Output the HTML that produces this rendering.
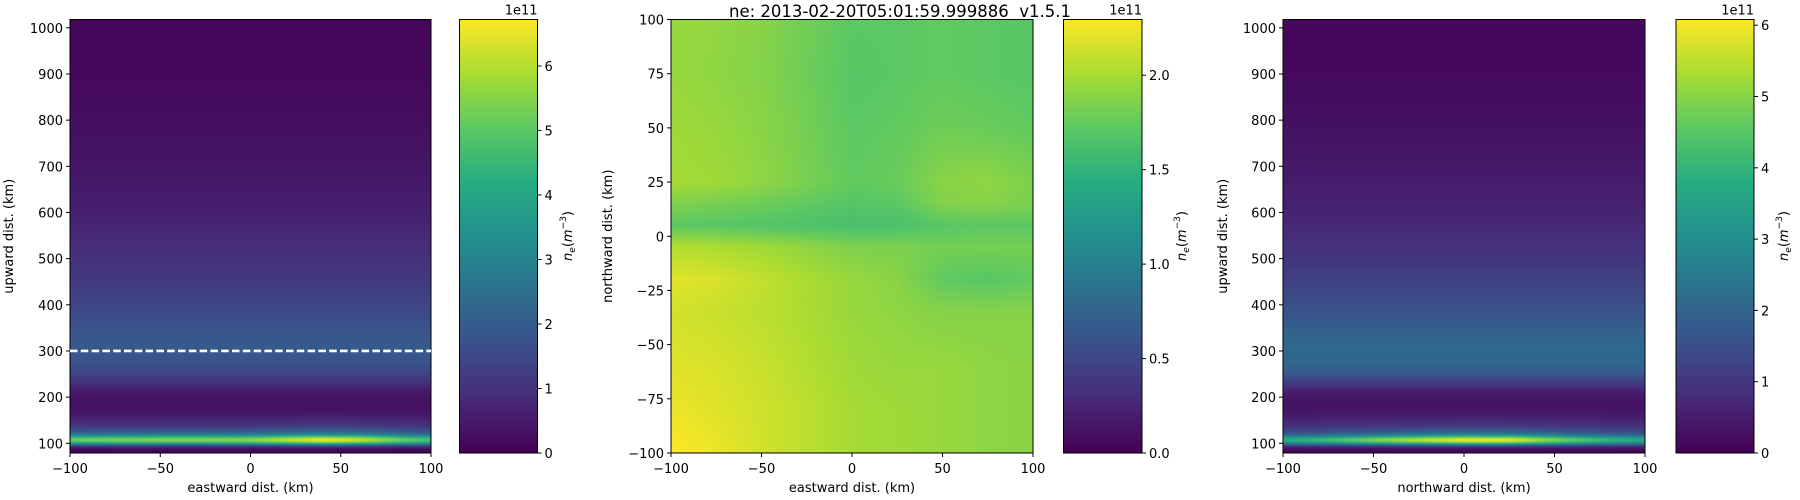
<!DOCTYPE html>
<html><head><meta charset="utf-8"><style>
body{margin:0;background:#fff;width:1800px;height:500px;overflow:hidden;position:relative;font-family:"DejaVu Sans","Liberation Sans",sans-serif}
canvas{position:absolute}
svg{position:absolute;left:0;top:0;font-family:"DejaVu Sans","Liberation Sans",sans-serif}
</style></head><body>
<canvas id="c1" style="left:70px;top:19px" width="361" height="434"></canvas>
<canvas id="c2" style="left:671px;top:19px" width="362" height="434"></canvas>
<canvas id="c3" style="left:1283px;top:19px" width="362" height="434"></canvas>
<canvas id="b1" style="left:459px;top:19px" width="78" height="434"></canvas>
<canvas id="b2" style="left:1063px;top:19px" width="79" height="434"></canvas>
<canvas id="b3" style="left:1676px;top:19px" width="78" height="434"></canvas>
<svg id="ov" width="1800" height="500"></svg>
<script>
// ---- data (values in 1e11 m^-3) ----
const altKm = [79,90,110,130,150,170,190,210,230,250,270,300,330,370,400,450,500,550,600,700,800,900,1018];
const fProfile1 = [0.1,0.2,0.5,0.6,0.5,0.35,0.3,0.45,0.9,1.4,1.7,1.9,1.85,1.6,1.4,1.15,0.95,0.78,0.6,0.4,0.25,0.15,0.1];
const fProfile3 = [0.1,0.2,0.5,0.6,0.5,0.35,0.3,0.5,1.1,1.7,2.0,2.1,2.0,1.7,1.5,1.2,0.95,0.78,0.62,0.42,0.26,0.15,0.1];
const eAlt = [79,86,92,98,103,107,112,118,125,135,150,170];
const eShape1 = [0,0,0.15,0.6,0.95,1,0.8,0.45,0.25,0.12,0.04,0];
const eShape3 = [0,0,0.15,0.6,0.95,1,0.75,0.4,0.22,0.1,0.03,0];
const horizKm = [-100,-75,-50,-25,0,25,40,60,80,100];
const eAmp1 = [4.8,5.0,5.1,5.1,5.2,5.8,6.2,5.8,5.0,4.3];
const eAmp3 = [3.3,3.8,4.5,5.1,5.6,5.5,4.9,4.2,3.6,3.2];
const vmax1 = 6.72, vmax2 = 2.295, vmax3 = 6.08;
// panel 2 grid
const gridX = [-100,-75,-50,-25,0,25,50,75,100];
const gridY = [100,75,50,25,15,5,-5,-20,-35,-60,-80,-100];
const gridV = [
[1.94,1.92,1.88,1.80,1.72,1.72,1.74,1.72,1.70],
[1.94,1.91,1.87,1.79,1.70,1.72,1.74,1.72,1.70],
[1.97,1.94,1.89,1.81,1.72,1.74,1.79,1.77,1.74],
[1.99,1.97,1.91,1.83,1.74,1.77,1.89,1.91,1.84],
[1.85,1.82,1.78,1.74,1.69,1.71,1.86,1.88,1.83],
[1.72,1.70,1.68,1.65,1.62,1.64,1.70,1.72,1.72],
[2.04,2.01,1.97,1.91,1.84,1.84,1.81,1.81,1.81],
[2.20,2.17,2.09,2.01,1.94,1.89,1.74,1.70,1.75],
[2.15,2.11,2.07,2.01,1.94,1.91,1.87,1.87,1.87],
[2.19,2.17,2.11,2.04,1.97,1.94,1.94,1.91,1.89],
[2.24,2.19,2.14,2.07,1.99,1.97,1.94,1.91,1.89],
[2.30,2.24,2.14,2.07,1.99,1.97,1.94,1.91,1.89]];
const xTicks = [-100,-50,0,50,100];
const altTicks = [100,200,300,400,500,600,700,800,900,1000];
const northTicks = [-100,-75,-50,-25,0,25,50,75,100];
const cb1Ticks = [0,1,2,3,4,5,6];
const cb2Ticks = [0,0.5,1,1.5,2];
const cb3Ticks = [0,1,2,3,4,5,6];

// ---- helpers ----
const VS=["#440154","#472c7a","#3b518b","#2c718e","#21908d","#27ad81","#5cc863","#aadc32","#fde725"].map(h=>[1,3,5].map(i=>parseInt(h.substr(i,2),16)));
function viridis(t){t=Math.max(0,Math.min(1,t));const f=t*8,i=Math.min(7,Math.floor(f)),r=f-i;return VS[i].map((c,k)=>c+(VS[i+1][k]-c)*r);}
function interp(xs,ys,x){if(x<=xs[0])return ys[0];for(let i=1;i<xs.length;i++){if(x<=xs[i]){const r=(x-xs[i-1])/(xs[i]-xs[i-1]);return ys[i-1]+(ys[i]-ys[i-1])*r;}}return ys[ys.length-1];}
function fill(cv,fn,vmax){const ctx=cv.getContext('2d'),W=cv.width,H=cv.height,img=ctx.createImageData(W,H);
 for(let j=0;j<H;j++)for(let i=0;i<W;i++){const c=viridis(fn(i/(W-1),j/(H-1))/vmax),p=(j*W+i)*4;img.data[p]=c[0];img.data[p+1]=c[1];img.data[p+2]=c[2];img.data[p+3]=255;}
 ctx.putImageData(img,0,0);}
const A0=79,A1=1018;
fill(document.getElementById('c1'),(u,v)=>{const x=-100+200*u,a=A1-(A1-A0)*v;return interp(altKm,fProfile1,a)+interp(horizKm,eAmp1,x)*interp(eAlt,eShape1,a);},vmax1);
fill(document.getElementById('c3'),(u,v)=>{const x=-100+200*u,a=A1-(A1-A0)*v;return interp(altKm,fProfile3,a)+interp(horizKm,eAmp3,x)*interp(eAlt,eShape3,a);},vmax3);
const gyr=gridY.slice().reverse(), gvr=gridV.slice().reverse();
fill(document.getElementById('c2'),(u,v)=>{const x=-100+200*u,y=100-200*v;const col=gvr.map(r=>interp(gridX,r,x));return interp(gyr,col,y);},vmax2);
['b1','b2','b3'].forEach(id=>fill(document.getElementById(id),(u,v)=>1-v,1));

// ---- overlay ----
const NS="http://www.w3.org/2000/svg",ov=document.getElementById('ov');
function el(tag,at,txt){const e=document.createElementNS(NS,tag);for(const k in at)e.setAttribute(k,at[k]);if(txt!=null)e.textContent=txt;ov.appendChild(e);return e;}
function fmt(v){return (v<0?"\u2212":"")+Math.abs(v);}
const FS=13;
function panel(p){
 const {L,R,T,B,xmin,xmax,ymin,ymax,yt,xl,yl,ylx,name}=p;
 const sx=v=>L+(v-xmin)/(xmax-xmin)*(R-L), sy=v=>B-(v-ymin)/(ymax-ymin)*(B-T);
 let r=el('rect',{x:L,y:T,width:R-L,height:B-T,fill:'none',stroke:'#000','stroke-width':1});
 
 xTicks.forEach(v=>{const x=sx(v);el('line',{x1:x,x2:x,y1:B,y2:B+4,stroke:'#000'});
  const t=el('text',{x:x,y:B+20,'font-size':FS,'text-anchor':'middle'},fmt(v));});
 yt.forEach(v=>{const y=sy(v);el('line',{x1:L-4,x2:L,y1:y,y2:y,stroke:'#000'});
  const t=el('text',{x:L-7,y:y+5,'font-size':FS,'text-anchor':'end'},fmt(v));});
 let t=el('text',{x:(L+R)/2,y:492,'font-size':FS,'text-anchor':'middle'},xl);
 t=el('text',{x:ylx,y:(T+B)/2,'font-size':FS,'text-anchor':'middle',transform:`rotate(-90 ${ylx} ${(T+B)/2})`},yl);
 return {sx,sy};
}
function cbar(c){
 const {L,R,T,B,vmax,ticks,dec,lx,name}=c;
 let r=el('rect',{x:L,y:T,width:R-L,height:B-T,fill:'none',stroke:'#000'});
 
 ticks.forEach(v=>{const y=B-v/vmax*(B-T);el('line',{x1:R,x2:R+4,y1:y,y2:y,stroke:'#000'});
  const t=el('text',{x:R+7,y:y+5,'font-size':FS},v.toFixed(dec));});
 let t=el('text',{x:R,y:T-5,'font-size':FS,'text-anchor':'end'},'1e11');
 t=el('text',{x:lx,y:236,'font-size':FS,'text-anchor':'middle','font-style':'italic',transform:`rotate(-90 ${lx} 236)`});
 
 t.innerHTML='n<tspan font-size="9" dy="3">e</tspan><tspan dy="-3" font-style="normal">(</tspan>m<tspan font-size="9" dy="-6" font-style="normal">\u22123</tspan><tspan dy="6" font-style="normal">)</tspan>';
}
const p1=panel({L:70,R:431,T:19.5,B:453,xmin:-100,xmax:100,ymin:A0,ymax:A1,yt:altTicks,xl:'eastward dist. (km)',yl:'upward dist. (km)',ylx:13,name:'panel-1'});
panel({L:671,R:1033,T:19.5,B:453,xmin:-100,xmax:100,ymin:-100,ymax:100,yt:northTicks,xl:'eastward dist. (km)',yl:'northward dist. (km)',ylx:612,name:'panel-2'});
panel({L:1283,R:1645,T:19.5,B:453,xmin:-100,xmax:100,ymin:A0,ymax:A1,yt:altTicks,xl:'northward dist. (km)',yl:'upward dist. (km)',ylx:1227,name:'panel-3'});
const dl=el('line',{x1:70,x2:431,y1:p1.sy(300),y2:p1.sy(300),stroke:'#fff','stroke-width':2.6,'stroke-dasharray':'7.5 3.3'});

cbar({L:459.5,R:537.5,T:19.5,B:453,vmax:vmax1,ticks:cb1Ticks,dec:0,lx:572,name:'colorbar-1'});
cbar({L:1063.5,R:1142,T:19.5,B:453,vmax:vmax2,ticks:cb2Ticks,dec:1,lx:1186,name:'colorbar-2'});
cbar({L:1676,R:1754,T:19.5,B:453,vmax:vmax3,ticks:cb3Ticks,dec:0,lx:1788,name:'colorbar-3'});
const ti=el('text',{x:900,y:17,'font-size':16.5,'text-anchor':'middle'},'ne: 2013-02-20T05:01:59.999886\u00a0\u00a0v1.5.1');

</script>
</body></html>
